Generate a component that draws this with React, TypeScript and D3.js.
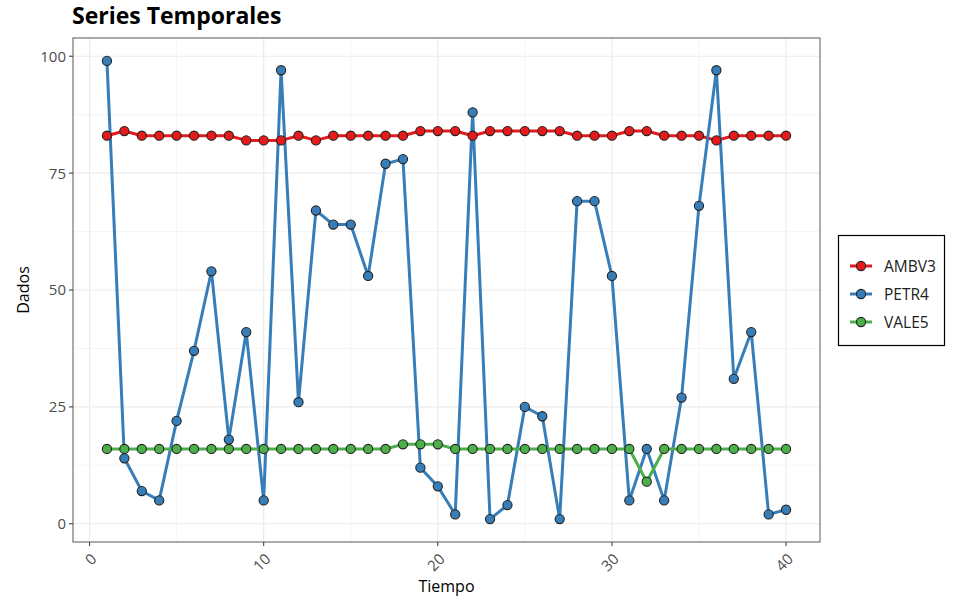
import React from "react";
import * as d3 from "d3";

const tiempo = d3.range(1, 41);
const seriesNames = ["AMBV3", "PETR4", "VALE5"];
const seriesColors = ["#E41A1C", "#377EB8", "#4DAF4A"];
const ambv3 = [83, 84, 83, 83, 83, 83, 83, 83, 82, 82, 82, 83, 82, 83, 83, 83, 83, 83, 84, 84, 84, 83, 84, 84, 84, 84, 84, 83, 83, 83, 84, 84, 83, 83, 83, 82, 83, 83, 83, 83];
const petr4 = [99, 14, 7, 5, 22, 37, 54, 18, 41, 5, 97, 26, 67, 64, 64, 53, 77, 78, 12, 8, 2, 88, 1, 4, 25, 23, 1, 69, 69, 53, 5, 16, 5, 27, 68, 97, 31, 41, 2, 3];
const vale5 = [16, 16, 16, 16, 16, 16, 16, 16, 16, 16, 16, 16, 16, 16, 16, 16, 16, 17, 17, 17, 16, 16, 16, 16, 16, 16, 16, 16, 16, 16, 16, 9, 16, 16, 16, 16, 16, 16, 16, 16];
const xTicks = [0, 10, 20, 30, 40];
const yTicks = [0, 25, 50, 75, 100];
const xMinor = [5, 15, 25, 35];
const yMinor = [12.5, 37.5, 62.5, 87.5];

const W = 959, H = 606;
const panel = { left: 73, right: 820, top: 38, bottom: 542 };
const font = "'Open Sans', 'Noto Sans', sans-serif";

export default function App() {
  const allY = [...ambv3, ...petr4, ...vale5];
  const yMin = d3.min(allY)!, yMax = d3.max(allY)!;
  const yPad = (yMax - yMin) * 0.05;
  const xPad = (40 - 1) * 0.05;
  const x = d3.scaleLinear().domain([1 - xPad, 40 + xPad]).range([panel.left, panel.right]);
  const y = d3.scaleLinear().domain([yMin - yPad, yMax + yPad]).range([panel.bottom, panel.top]);
  const data = [ambv3, petr4, vale5];
  const line = d3.line<number>().x((_, i) => x(tiempo[i])).y((d) => y(d));
  const legendY = [266, 294, 322];

  return (
    <svg width={W} height={H} style={{ position: "absolute", left: 0, top: 0, fontFamily: font }}>
      <rect width={W} height={H} fill="white" />
      {/* grid */}
      {xMinor.map((t) => (
        <line key={"xm" + t} x1={x(t)} x2={x(t)} y1={panel.top} y2={panel.bottom} stroke="#f2f2f2" strokeWidth={0.8} />
      ))}
      {yMinor.map((t) => (
        <line key={"ym" + t} x1={panel.left} x2={panel.right} y1={y(t)} y2={y(t)} stroke="#f2f2f2" strokeWidth={0.8} />
      ))}
      {xTicks.map((t) => (
        <line key={"xg" + t} x1={x(t)} x2={x(t)} y1={panel.top} y2={panel.bottom} stroke="#ebebeb" strokeWidth={1.2} />
      ))}
      {yTicks.map((t) => (
        <line key={"yg" + t} x1={panel.left} x2={panel.right} y1={y(t)} y2={y(t)} stroke="#ebebeb" strokeWidth={1.2} />
      ))}
      {/* lines */}
      {data.map((d, i) => (
        <path key={"l" + i} d={line(d)!} fill="none" stroke={seriesColors[i]} strokeWidth={3} strokeLinejoin="round" />
      ))}
      {/* points */}
      {data.map((d, i) =>
        d.map((v, j) => (
          <circle key={"p" + i + "-" + j} cx={x(tiempo[j])} cy={y(v)} r={4.6} fill={seriesColors[i]} stroke="#222" strokeWidth={1.1} />
        ))
      )}
      {/* panel border */}
      <rect x={panel.left} y={panel.top} width={panel.right - panel.left} height={panel.bottom - panel.top} fill="none" stroke="#666" strokeWidth={1.1} />
      {/* y ticks */}
      {yTicks.map((t) => (
        <g key={"yt" + t}>
          <line x1={panel.left - 4} x2={panel.left} y1={y(t)} y2={y(t)} stroke="#444" strokeWidth={1.1} />
          <text x={panel.left - 7} y={y(t)} dy="0.36em" textAnchor="end" fontSize={15} fill="#4d4d4d">{t}</text>
        </g>
      ))}
      {/* x ticks */}
      {xTicks.map((t) => (
        <g key={"xt" + t}>
          <line x1={x(t)} x2={x(t)} y1={panel.bottom} y2={panel.bottom + 4} stroke="#444" strokeWidth={1.1} />
          <text transform={`translate(${x(t) + 8},${panel.bottom + 18}) rotate(-45)`} textAnchor="end" fontSize={15} fill="#4d4d4d">{t}</text>
        </g>
      ))}
      {/* axis titles */}
      <text x={(panel.left + panel.right) / 2} y={592} textAnchor="middle" fontSize={16} fill="#000">Tiempo</text>
      <text transform={`translate(29,${(panel.top + panel.bottom) / 2}) rotate(-90)`} textAnchor="middle" fontSize={16} fill="#000">Dados</text>
      {/* title */}
      <text x={72} y={24} fontSize={23} fontWeight="bold" fill="#000">Series Temporales</text>
      {/* legend */}
      <rect x={838.5} y={235.5} width={106} height={110} fill="white" stroke="#000" strokeWidth={1.2} />
      {seriesNames.map((n, i) => (
        <g key={"lg" + n}>
          <line x1={850} x2={872} y1={legendY[i]} y2={legendY[i]} stroke={seriesColors[i]} strokeWidth={3} />
          <circle cx={861} cy={legendY[i]} r={4.6} fill={seriesColors[i]} stroke="#222" strokeWidth={1.1} />
          <text x={884} y={legendY[i]} dy="0.36em" fontSize={15.5} fill="#222">{n}</text>
        </g>
      ))}
    </svg>
  );
}
